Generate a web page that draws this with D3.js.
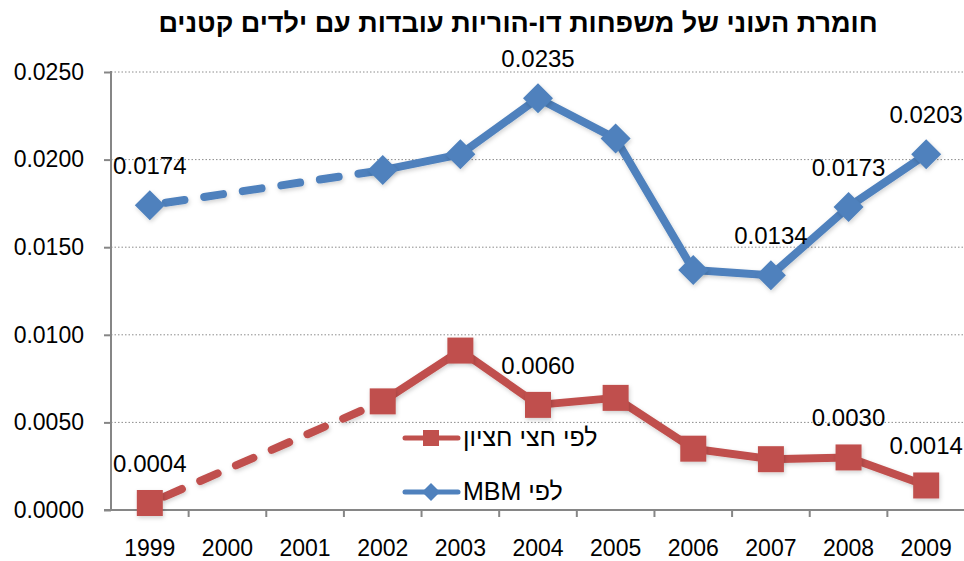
<!DOCTYPE html>
<html><head><meta charset="utf-8">
<script src="https://cdn.jsdelivr.net/npm/d3@7"></script>
<style>
body{margin:0;background:#fff;}
svg{display:block;}
text{font-family:"Liberation Sans",Arial,sans-serif;}
</style></head>
<body><svg id="c" width="964" height="561"></svg>
<script>
const title = "חומרת העוני של משפחות דו-הוריות עובדות עם ילדים קטנים";
const years = ["1999","2000","2001","2002","2003","2004","2005","2006","2007","2008","2009"];
const mbm = [0.0174, null, null, 0.0194, 0.0203, 0.0235, 0.0212, 0.0137, 0.0134, 0.0173, 0.0203];
const halfMedian = [0.0004, null, null, 0.0062, 0.0091, 0.0060, 0.0064, 0.0035, 0.0029, 0.0030, 0.0014];
const mbmLabels = ["1999","2004","2007","2008","2009"];
const halfLabels = ["1999","2004","2008","2009"];
const yTicks = [0, 0.005, 0.01, 0.015, 0.02, 0.025];
const legendNames = ["לפי חצי חציון", "לפי MBM"];

(function(){
const svg = d3.select("#c");
const W = 964, H = 561;
const pLeft = 111, pRight = 965, pTop = 72, pBottom = 510;
const x = d3.scaleBand().domain(years).range([pLeft, pRight]);
const y = d3.scaleLinear().domain([0, 0.025]).range([pBottom, pTop]);
const cx = d => x(d) + x.bandwidth()/2;
const blue = "#4F81BD", red = "#C0504D", axisCol = "#868686";

const defs = svg.append("defs");
const f = defs.append("filter").attr("id","sh").attr("x","-50%").attr("y","-50%").attr("width","200%").attr("height","200%");
f.append("feDropShadow").attr("dx",1).attr("dy",2).attr("stdDeviation",2).attr("flood-color","#000").attr("flood-opacity",0.18);

// title
svg.append("text").attr("x", 518).attr("y", 32).attr("text-anchor","middle")
  .attr("font-size", 27).attr("font-weight","bold").attr("direction","rtl").text(title);

// gridlines
svg.append("g").selectAll("line").data(yTicks.filter(t=>t>0)).join("line")
  .attr("x1", pLeft).attr("x2", W).attr("y1", d=>y(d)).attr("y2", d=>y(d))
  .attr("stroke","#8c8c8c").attr("stroke-width",1).attr("stroke-dasharray","1.5,2");

// y axis
const ya = svg.append("g").attr("transform",`translate(${pLeft},0)`)
  .call(d3.axisLeft(y).tickValues(yTicks).tickFormat(d3.format(".4f")).tickSize(7).tickPadding(20));
ya.select(".domain").attr("stroke",axisCol).attr("stroke-width",2).attr("d",`M0,${pTop-1}V${pBottom}`);
ya.selectAll(".tick line").attr("stroke",axisCol).attr("stroke-width",2);
ya.selectAll(".tick text").attr("font-size",23).attr("fill","#000").attr("font-family","Liberation Sans, Arial, sans-serif");

// x axis
const xa = svg.append("g").attr("transform",`translate(0,${pBottom})`);
xa.append("line").attr("x1",pLeft-7).attr("x2",W).attr("y1",0).attr("y2",0).attr("stroke",axisCol).attr("stroke-width",2);
xa.selectAll("line.tk").data(years).join("line").attr("class","tk")
  .attr("x1",(d,i)=> x(d) + x.bandwidth()).attr("x2",(d,i)=> x(d) + x.bandwidth())
  .attr("y1",0).attr("y2",7).attr("stroke",axisCol).attr("stroke-width",2);
xa.selectAll("text").data(years).join("text").attr("x",d=>cx(d)).attr("y",46)
  .attr("text-anchor","middle").attr("font-size",23).text(d=>d);

function drawSeries(vals, color, marker){
  const pts = years.map((yr,i)=>({yr, v: vals[i]})).filter(p=>p.v!==null);
  const line = d3.line().x(p=>cx(p.yr)).y(p=>y(p.v));
  const g = svg.append("g");
  let gapEnd = 0;
  for(let i=0;i<pts.length-1;i++){
    const a = pts[i], b = pts[i+1];
    if(years.indexOf(b.yr) - years.indexOf(a.yr) > 1){
      gapEnd = i+1;
      g.append("path").attr("d", line([a,b])).attr("fill","none").attr("stroke",color)
        .attr("stroke-width",8).attr("stroke-linecap","round").attr("stroke-dasharray","19,20").attr("stroke-dashoffset",-16)
        .attr("filter","url(#sh)");
    }
  }
  g.append("path").attr("d", line(pts.slice(gapEnd))).attr("fill","none").attr("stroke",color)
    .attr("stroke-width",8).attr("stroke-linejoin","round").attr("filter","url(#sh)");
  g.selectAll("path.m").data(pts).join("path").attr("class","m")
    .attr("transform",p=>`translate(${cx(p.yr)},${y(p.v)})`)
    .attr("d", marker).attr("fill",color).attr("filter","url(#sh)");
}
const diamond = "M0,-15L15,0L0,15L-15,0Z";
const square = "M-13,-13H13V13H-13Z";
drawSeries(mbm, blue, diamond);
drawSeries(halfMedian, red, square);

// data labels
function labels(vals, which){
  svg.append("g").selectAll("text").data(which).join("text")
    .attr("x", yr=>cx(yr)).attr("y", yr=>y(vals[years.indexOf(yr)]) - 31)
    .attr("text-anchor","middle").attr("font-size",24).text(yr=>d3.format(".4f")(vals[years.indexOf(yr)]));
}
labels(mbm, mbmLabels);
labels(halfMedian, halfLabels);

// legend
const lg = svg.append("g");
const legItems = [{name: legendNames[0], color: red, marker: "M-8,-8H8V8H-8Z", y: 438},
                  {name: legendNames[1], color: blue, marker: "M0,-9L9,0L0,9L-9,0Z", y: 492}];
legItems.forEach(it=>{
  lg.append("line").attr("x1",405).attr("x2",458).attr("y1",it.y).attr("y2",it.y)
    .attr("stroke",it.color).attr("stroke-width",5).attr("stroke-linecap","round");
  lg.append("path").attr("transform",`translate(431,${it.y})`).attr("d",it.marker).attr("fill",it.color);
  lg.append("text").attr("x",463).attr("y",it.y+8).attr("font-size",25).attr("direction","rtl")
    .attr("text-anchor","end").text(it.name);
});
})();
</script></body></html>
